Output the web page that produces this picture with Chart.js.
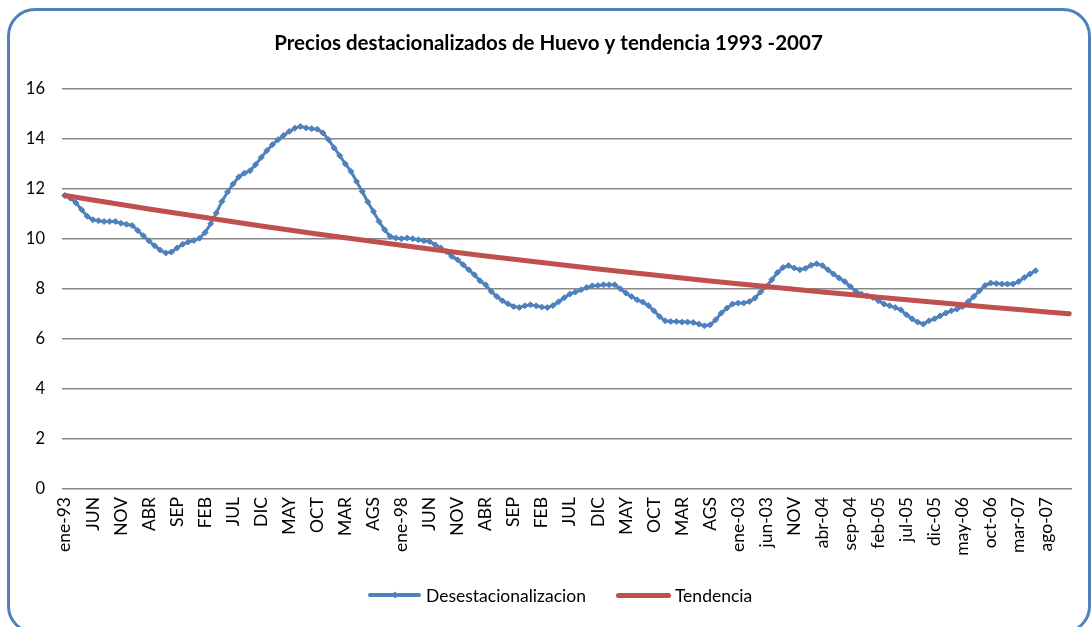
<!DOCTYPE html>
<html>
<head>
<meta charset="utf-8">
<script src="https://cdn.jsdelivr.net/npm/chart.js@4.4.1/dist/chart.umd.min.js"></script>
<style>
  html, body { margin: 0; padding: 0; background: #ffffff; width: 1092px; height: 627px; overflow: hidden; position: relative; font-family: Lato, "Open Sans", sans-serif; }
  #frame { position: absolute; left: 7px; top: 8px; width: 1084px; height: 626px; box-sizing: border-box; border: 3px solid #4F81BD; border-radius: 28px; }
  #c { position: absolute; left: 0; top: 0; }
  #legend { position: absolute; left: 368px; top: 583px; height: 24px; display: flex; align-items: center; font-family: Lato, sans-serif; font-size: 17.5px; color: #000; white-space: nowrap; }
  .item { display: flex; align-items: center; }
  .sym { position: relative; height: 24px; }
  .sym .ln { position: absolute; left: 0; right: 0; top: 50%; border-radius: 3px; }
  .sym .mk { position: absolute; width: 5px; height: 5px; top: 50%; left: 50%; transform: translate(-50%, -50%) rotate(45deg); }
</style>
</head>
<body>
<div id="frame"></div>
<canvas id="c" width="1092" height="627"></canvas>
<div id="legend"></div>
<script>
// ---- data ----
const monthNames = ['ene','feb','mar','abr','may','jun','jul','ago','sep','oct','nov','dic'];
const years = ['93','94','95','96','97','98','99','00','01','02','03','04','05','06','07'];

// displayed x tick labels (one every 5 months)
const xTickLabels = ['ene-93','JUN','NOV','ABR','SEP','FEB','JUL','DIC','MAY','OCT','MAR','AGS',
  'ene-98','JUN','NOV','ABR','SEP','FEB','JUL','DIC','MAY','OCT','MAR','AGS',
  'ene-03','jun-03','NOV','abr-04','sep-04','feb-05','jul-05','dic-05','may-06','oct-06','mar-07','ago-07'];

const yTicks = [0, 2, 4, 6, 8, 10, 12, 14, 16];

// Desestacionalizacion (monthly, from ene-93)
const desestacionalizacion = [
  11.73, 11.62, 11.43, 11.16, 10.90, 10.76, 10.72, 10.69, 10.69, 10.69,
  10.62, 10.58, 10.53, 10.33, 10.12, 9.92, 9.72, 9.55, 9.43, 9.47,
  9.63, 9.78, 9.87, 9.93, 10.02, 10.25, 10.60, 11.03, 11.49, 11.87,
  12.19, 12.47, 12.62, 12.72, 12.96, 13.25, 13.52, 13.76, 13.96, 14.13,
  14.29, 14.42, 14.49, 14.43, 14.40, 14.38, 14.23, 13.96, 13.63, 13.32,
  12.99, 12.69, 12.29, 11.89, 11.47, 11.09, 10.69, 10.36, 10.09, 10.03,
  10.00, 10.03, 10.00, 9.96, 9.92, 9.89, 9.76, 9.63, 9.49, 9.29,
  9.16, 8.96, 8.76, 8.56, 8.32, 8.16, 7.89, 7.69, 7.52, 7.40,
  7.29, 7.25, 7.32, 7.36, 7.32, 7.27, 7.25, 7.33, 7.48, 7.64,
  7.79, 7.87, 7.96, 8.05, 8.12, 8.13, 8.16, 8.16, 8.16, 8.00,
  7.83, 7.69, 7.56, 7.47, 7.33, 7.12, 6.89, 6.72, 6.69, 6.69,
  6.67, 6.67, 6.65, 6.59, 6.52, 6.56, 6.76, 7.03, 7.23, 7.39,
  7.43, 7.43, 7.49, 7.63, 7.87, 8.09, 8.36, 8.65, 8.85, 8.93,
  8.83, 8.76, 8.82, 8.94, 9.00, 8.93, 8.76, 8.59, 8.43, 8.29,
  8.09, 7.89, 7.79, 7.72, 7.65, 7.52, 7.39, 7.32, 7.25, 7.16,
  6.96, 6.80, 6.67, 6.59, 6.72, 6.80, 6.92, 7.03, 7.12, 7.19,
  7.29, 7.49, 7.69, 7.92, 8.13, 8.23, 8.21, 8.19, 8.19, 8.19,
  8.29, 8.45, 8.59, 8.72
];

// Tendencia (read at selected months)
const tendenciaMonths = ['ene-93','jun-93','nov-93','abr-94','sep-94','feb-95','jul-95','dic-95','may-96','oct-96',
  'mar-97','ago-97','ene-98','jun-98','nov-98','abr-99','sep-99','feb-00','jul-00','dic-00',
  'may-01','oct-01','mar-02','ago-02','ene-03','jun-03','nov-03','abr-04','sep-04','feb-05',
  'jul-05','dic-05','may-06','oct-06','mar-07','ago-07','dic-07'];
const tendencia = [11.73, 11.55, 11.37, 11.19, 11.02, 10.85, 10.68, 10.51, 10.35, 10.19,
  10.04, 9.89, 9.74, 9.59, 9.45, 9.31, 9.18, 9.05, 8.92, 8.79,
  8.67, 8.55, 8.43, 8.31, 8.20, 8.09, 7.98, 7.87, 7.77, 7.66,
  7.56, 7.46, 7.36, 7.26, 7.17, 7.07, 7.00];

// ---- build ----
const categories = [];
years.forEach(y => monthNames.forEach(m => categories.push(m + '-' + y)));

const BLUE = '#4F81BD';
const RED = '#C0504D';
const FONT = 'Lato, "Open Sans", sans-serif';

const chart = new Chart(document.getElementById('c'), {
  type: 'line',
  data: {
    labels: categories,
    datasets: [
      {
        label: 'Desestacionalizacion',
        data: desestacionalizacion,
        borderColor: BLUE,
        backgroundColor: BLUE,
        borderWidth: 3,
        pointStyle: 'rectRot',
        pointRadius: 3,
        pointBorderWidth: 1,
        pointBackgroundColor: BLUE,
        pointBorderColor: BLUE,
        tension: 0,
        order: 1
      },
      {
        label: 'Tendencia',
        data: tendenciaMonths.map((m, k) => ({ x: m, y: tendencia[k] })),
        borderColor: RED,
        backgroundColor: RED,
        borderWidth: 5,
        borderCapStyle: 'round',
        borderJoinStyle: 'round',
        pointRadius: 0,
        spanGaps: true,
        tension: 0,
        order: 0
      }
    ]
  },
  options: {
    responsive: false,
    animation: false,
    devicePixelRatio: 1,
    layout: { padding: { left: 25, right: 20, top: 0, bottom: 10 } },
    plugins: {
      legend: { display: false },
      tooltip: { enabled: false },
      title: {
        display: true,
        text: 'Precios destacionalizados de Huevo y tendencia 1993 -2007',
        color: '#000',
        font: { family: FONT, size: 20.5, weight: 'bold' },
        padding: { top: 31, bottom: 33 }
      }
    },
    scales: {
      x: {
        type: 'category',
        offset: true,
        grid: { display: false, drawTicks: false },
        border: { display: false },
        ticks: {
          autoSkip: false,
          maxRotation: 90,
          minRotation: 90,
          padding: 8,
          color: '#000',
          font: { family: FONT, size: 17.5 },
          callback: function (val, idx) { return idx % 5 === 0 ? xTickLabels[idx / 5] : null; }
        },
        afterFit: s => { s.height = 128; }
      },
      y: {
        min: yTicks[0],
        max: yTicks[yTicks.length - 1],
        afterBuildTicks: s => { s.ticks = yTicks.map(v => ({ value: v })); },
        grid: { color: '#888888', lineWidth: 1.5, drawTicks: false },
        border: { display: false },
        ticks: { padding: 17, color: '#000', font: { family: FONT, size: 16.5 } },
        afterFit: s => { s.width = 37; }
      }
    }
  }
});

// HTML legend built from the datasets
const leg = document.getElementById('legend');
chart.data.datasets.forEach((ds, i) => {
  const item = document.createElement('div');
  item.className = 'item';
  if (i > 0) item.style.marginLeft = '30px';
  const sym = document.createElement('div');
  sym.className = 'sym';
  sym.style.width = (i === 0 ? 53 : 55) + 'px';
  const ln = document.createElement('div');
  ln.className = 'ln';
  ln.style.background = ds.borderColor;
  const th = i === 0 ? 4 : 5;
  ln.style.height = th + 'px';
  ln.style.marginTop = (-th / 2) + 'px';
  sym.appendChild(ln);
  if (ds.pointStyle === 'rectRot') {
    const mk = document.createElement('div');
    mk.className = 'mk';
    mk.style.background = ds.borderColor;
    sym.appendChild(mk);
  }
  const txt = document.createElement('span');
  txt.textContent = ds.label;
  txt.style.marginLeft = (i === 0 ? 5 : 4) + 'px';
  item.appendChild(sym);
  item.appendChild(txt);
  leg.appendChild(item);
});
</script>
</body>
</html>
